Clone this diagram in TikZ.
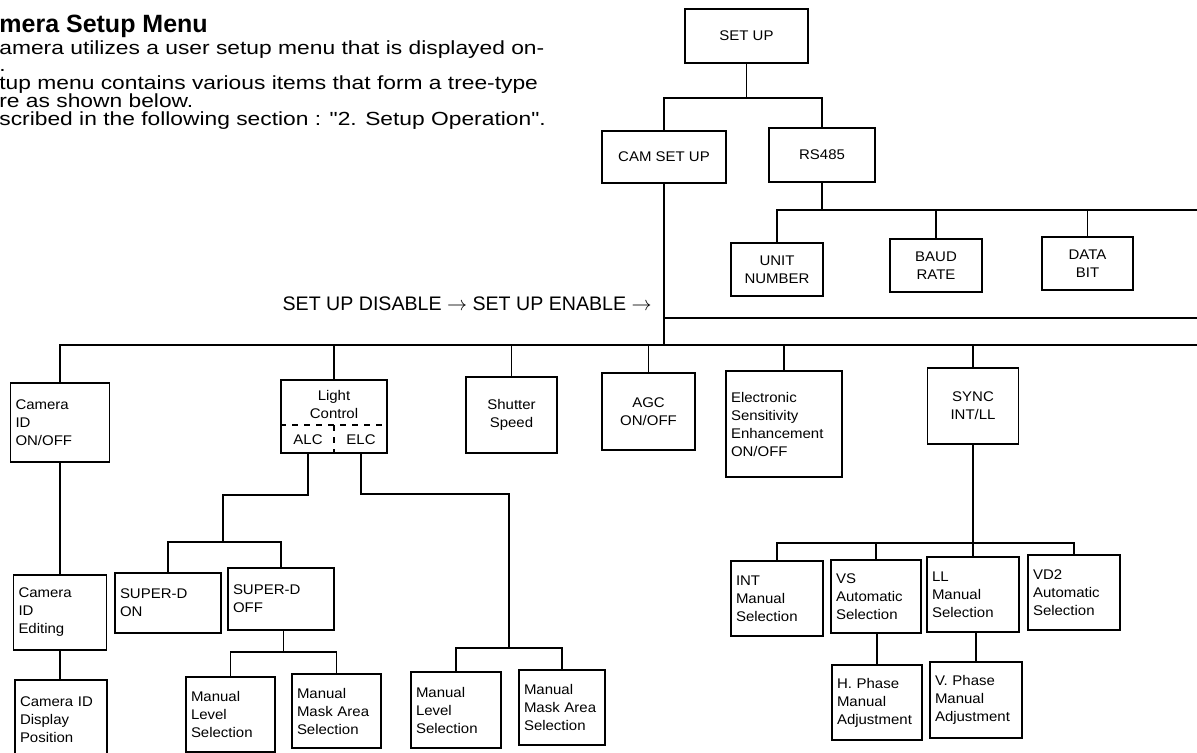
\documentclass[tikz,border=0pt]{standalone}
\usepackage{fontspec}
\setmainfont{Liberation Sans}
\newfontfamily\bodyface[FakeStretch=1.2,Ligatures=TeXOff]{Liberation Sans}
\newfontfamily\boxface[FakeStretch=1.07]{Liberation Sans}
\newcommand{\boxfont}{\boxface\fontsize{7}{9}\selectfont}
\newcommand{\bodyfont}{\bodyface\fontsize{9.5}{11}\selectfont}
\tikzset{
  menu/.style={draw, line width=0.8pt, inner xsep=2.5pt, inner ysep=1pt, font=\boxfont},
  cbox/.style 2 args={menu, align=center, minimum width=#1, minimum height=#2},
  lbox/.style 2 args={menu, align=left, text width=#1, minimum height=#2},
  wire/.style={line width=0.7pt},
  body/.style={anchor=base west, inner sep=0pt, font=\bodyfont},
}
\begin{document}
\begin{tikzpicture}[x=0.5pt, y=-0.5pt]
\useasboundingbox (0,0) rectangle (1197,753);

% text at the top left
\node[body, font=\fontsize{12.5}{14}\selectfont\bfseries] (title) at (-1,33) {mera Setup Menu};
\node[body] (line1) at (-1,55) {amera utilizes a user setup menu that is displayed on-};
\node[body] (line2) at (-1,72) {.};
\node[body] (line3) at (-1,90) {tup menu contains various items that form a tree-type};
\node[body] (line4) at (-1,108) {re as shown below.};
\node[body] (line5) at (-1,126) {scribed in the following section : "2. Setup Operation".};

% upper tree
\node[cbox={61.5pt}{27pt}] (setup) at (746.5,36) {SET UP};
\node[cbox={62pt}{26pt}] (camsetup) at (664,157) {CAM SET UP};
\node[cbox={53pt}{27pt}] (rs485) at (822,155) {RS485};
\node[cbox={46pt}{26.5pt}] (unitnum) at (777,269.5) {UNIT\\NUMBER};
\node[cbox={46pt}{26.5pt}] (baud) at (936,265.5) {BAUD\\RATE};
\node[cbox={45.5pt}{26.5pt}] (databit) at (1087.5,263.5) {DATA\\BIT};

\coordinate (topj) at (746.5,98);
\coordinate (rsend) at (1197,210);
\coordinate (upend) at (1197,318);
\coordinate (busend) at (1197,345);

\draw[wire] (setup) -- (topj);
\draw[wire] (camsetup.north) |- (topj) -| (rs485.north);
\draw[wire] (rs485.south) -- (rs485.south |- rsend);
\draw[wire] (unitnum.north) |- (rsend);
\draw[wire] (baud.north) -- (baud.north |- rsend);
\draw[wire] (databit.north) -- (databit.north |- rsend);
\draw[wire] (camsetup.south) |- (upend);
\draw[wire] (camsetup.south) -- (camsetup.south |- busend);

\node[anchor=base east, inner sep=0pt, font=\fontsize{9.8}{11}\selectfont] (enable) at (652,310)
  {SET UP DISABLE $\rightarrow$ SET UP ENABLE $\rightarrow$};

% main row
\node[lbox={44.5pt}{39.5pt}] (camid) at (60,422.5) {Camera\\ID\\ON/OFF};
\node[cbox={53pt}{36.5pt}] (light) at (334,416.5) {};
\node[cbox={45.5pt}{38pt}] (shutter) at (511.5,415) {Shutter\\Speed};
\node[cbox={46.5pt}{38.5pt}] (agc) at (648.5,411.5) {AGC\\ON/OFF};
\node[lbox={53pt}{53pt}] (elec) at (784,424) {Electronic\\Sensitivity\\Enhancement\\ON/OFF};
\node[cbox={45.5pt}{38pt}] (sync) at (973,406) {SYNC\\INT/LL};

\draw[wire] (camid.north) |- (busend);
\foreach \n in {light,shutter,agc,elec,sync}
  \draw[wire] (\n.north) -- (\n.north |- busend);

% light control parts
\coordinate (ldiv) at (334,425);
\draw[dashed, line width=0.6pt] (light.west |- ldiv) -- (light.east |- ldiv);
\draw[dashed, line width=0.6pt] (ldiv) -- (light.south);
\node[font=\boxfont, align=center, inner sep=0pt] (lightname) at (334,404) {Light\\Control};
\node[font=\boxfont, inner sep=0pt] (alc) at (308,440) {ALC};
\node[font=\boxfont, inner sep=0pt] (elc) at (361,440) {ELC};

% camera ID branch
\node[lbox={41.5pt}{37.5pt}] (camedit) at (60,612.5) {Camera\\ID\\Editing};
\node[lbox={41pt}{40pt}] (camdisp) at (61,720) {Camera ID\\Display\\Position};
\draw[wire] (camid) -- (camedit);
\draw[wire] (camedit.south) -- (camedit.south |- camdisp.north);

% ALC / ELC branches
\node[lbox={48pt}{30pt}] (superdon) at (168,603) {SUPER-D\\ON};
\node[lbox={48pt}{31pt}] (superdoff) at (281,599) {SUPER-D\\OFF};
\node[lbox={39.5pt}{37.5pt}] (manlev1) at (230.5,714.5) {Manual\\Level\\Selection};
\node[lbox={39.5pt}{37pt}] (manmask1) at (336.5,711) {Manual\\Mask Area\\Selection};
\node[lbox={40pt}{38pt}] (manlev2) at (456,710) {Manual\\Level\\Selection};
\node[lbox={38pt}{37.5pt}] (manmask2) at (562,707.5) {Manual\\Mask Area\\Selection};

\coordinate (alcturn) at (223,495);
\coordinate (sdj) at (223,542);
\coordinate (elcturn) at (509,494);
\coordinate (mj2) at (509,648);
\coordinate (mj1) at (283.5,652);

\draw[wire] (light.south -| alc) |- (alcturn) -- (sdj);
\draw[wire] (superdon.north) |- (sdj) -| (superdoff.north);
\draw[wire] (superdoff.south -| mj1) -- (mj1);
\draw[wire] (manlev1.north) |- (mj1) -| (manmask1.north);
\draw[wire] (light.south -| elc) |- (elcturn) -- (mj2);
\draw[wire] (manlev2.north) |- (mj2) -| (manmask2.north);

% sync branch
\node[lbox={41pt}{37.5pt}] (intm) at (777,598.5) {INT\\Manual\\Selection};
\node[lbox={40pt}{36.5pt}] (vsa) at (876,596.5) {VS\\Automatic\\Selection};
\node[lbox={41pt}{37.5pt}] (llm) at (973,594.5) {LL\\Manual\\Selection};
\node[lbox={41pt}{37.5pt}] (vd2) at (1074,592.5) {VD2\\Automatic\\Selection};
\node[lbox={40pt}{37.5pt}] (hphase) at (877,702.5) {H. Phase\\Manual\\Adjustment};
\node[lbox={41pt}{38pt}] (vphase) at (976,700) {V. Phase\\Manual\\Adjustment};

\coordinate (sj) at (973,543);
\draw[wire] (sync) -- (llm);
\draw[wire] (intm.north) |- (sj) -| (vd2.north);
\draw[wire] (vsa.north) -- (vsa.north |- sj);
\draw[wire] (vsa.south -| hphase) -- (hphase.north);
\draw[wire] (llm.south -| vphase) -- (vphase.north);
\end{tikzpicture}
\end{document}
